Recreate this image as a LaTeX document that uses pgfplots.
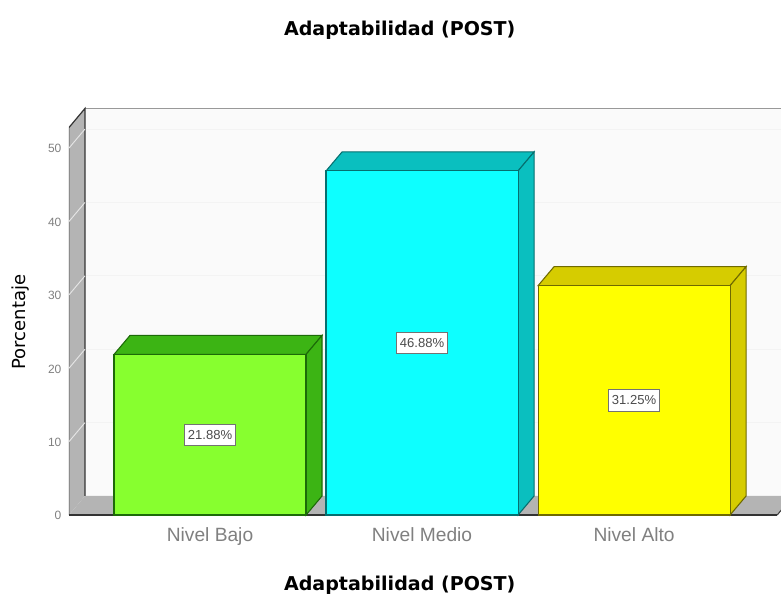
\documentclass[border=0pt]{standalone}
\usepackage{fontspec}
\setmainfont{Liberation Sans}
\newfontfamily\headfont{DejaVu Sans}
\usepackage{pgfplots}
\pgfplotsset{compat=1.18}
\definecolor{wallgray}{HTML}{B4B4B4}
\definecolor{backwall}{HTML}{FAFAFA}
\definecolor{backgrid}{HTML}{F3F3F3}
\definecolor{bargreen}{HTML}{87FF2F}
\definecolor{sidegreen}{HTML}{3CB414}
\definecolor{edgegreen}{HTML}{1C6A08}
\definecolor{barcyan}{HTML}{0DFFFF}
\definecolor{sidecyan}{HTML}{0ABFBF}
\definecolor{edgecyan}{HTML}{056F6F}
\definecolor{baryellow}{HTML}{FFFF00}
\definecolor{sideyellow}{HTML}{D6CC00}
\definecolor{edgeyellow}{HTML}{6F6A00}
\definecolor{softtext}{HTML}{808080}
\begin{document}
\begin{tikzpicture}[x=0.75pt,y=0.75pt]
\path[use as bounding box] (-69,-73.66) rectangle (712,522.34);
\begin{axis}[
  at={(0,0)}, anchor=south west,
  scale only axis, width=534pt, height=316.7pt,
  xmin=-0.665, xmax=2.693, ymin=-1, ymax=56.54,
  axis line style={draw=none},
  major tick length=0pt,
  xtick={0,1,2},
  xticklabels={Nivel Bajo,Nivel Medio,Nivel Alto},
  ytick={0,10,20,30,40,50},
  /pgf/number format/assume math mode=true,
  x tick label style={font=\fontsize{14.4}{16}\selectfont, text=softtext, inner sep=0pt, yshift=-4pt},
  y tick label style={font=\fontsize{9}{10}\selectfont, text=softtext, inner sep=0pt, xshift=-5.5pt, yshift=-0.6pt},
  title={\headfont\bfseries Adaptabilidad (POST)},
  title style={at={(axis description cs:0.4645,1.147)}, anchor=center, font=\fontsize{14.3}{16}\selectfont, inner sep=0pt},
  xlabel={\headfont\bfseries Adaptabilidad (POST)},
  xlabel style={at={(axis description cs:0.4645,-0.1484)}, anchor=center, font=\fontsize{14.3}{16}\selectfont, inner sep=0pt},
  ylabel={\headfont Porcentaje},
  ylabel style={at={(axis description cs:-0.0675,0.474)}, anchor=center, rotate=0, font=\fontsize{13.5}{15}\selectfont, inner sep=0pt},
  nodes near coords style={anchor=center},
]
% back wall and its grid
\addplot[fill=backwall, draw=none] coordinates {(-0.5896,2.59)(2.75,2.59)(2.75,55.4)(-0.5896,55.4)} \closedcycle;
\addplot[draw=black!40, line width=1pt] coordinates {(-0.5896,55.4)(2.75,55.4)};
\addplot[backgrid, line width=0.8pt] coordinates {(-0.5896,12.59)(2.75,12.59)};
\addplot[backgrid, line width=0.8pt] coordinates {(-0.5896,22.59)(2.75,22.59)};
\addplot[backgrid, line width=0.8pt] coordinates {(-0.5896,32.59)(2.75,32.59)};
\addplot[backgrid, line width=0.8pt] coordinates {(-0.5896,42.59)(2.75,42.59)};
\addplot[backgrid, line width=0.8pt] coordinates {(-0.5896,52.59)(2.75,52.59)};
% floor
\addplot[fill=wallgray, draw=none] coordinates {(-0.665,0)(2.675,0)(2.7505,2.59)(-0.5896,2.59)} --cycle;
\addplot[black!75, line width=0.8pt] coordinates {(2.675,0)(2.7505,2.59)};
% left wall with its grid
\addplot[fill=wallgray, draw=none] coordinates {(-0.665,0)(-0.5896,2.59)(-0.5896,55.4)(-0.665,52.8)} --cycle;
\addplot[black!45, line width=0.8pt] coordinates {(-0.665,0)(-0.665,52.8)};
\addplot[black!80, line width=0.9pt] coordinates {(-0.665,52.8)(-0.5896,55.4)(-0.5896,2.59)};
\addplot[white!90!black, line width=0.7pt] coordinates {(-0.665,10)(-0.5896,12.59)};
\addplot[white!90!black, line width=0.7pt] coordinates {(-0.665,20)(-0.5896,22.59)};
\addplot[white!90!black, line width=0.7pt] coordinates {(-0.665,30)(-0.5896,32.59)};
\addplot[white!90!black, line width=0.7pt] coordinates {(-0.665,40)(-0.5896,42.59)};
\addplot[white!90!black, line width=0.7pt] coordinates {(-0.665,50)(-0.5896,52.59)};
\addplot[black!80, line width=0.9pt] coordinates {(-0.665,0)(2.675,0)};
% Nivel Bajo
\addplot[fill=sidegreen, draw=edgegreen, line width=0.8pt] coordinates {(-0.4528,21.88)(0.4528,21.88)(0.5283,24.47)(-0.3773,24.47)} --cycle;
\addplot[fill=sidegreen, draw=edgegreen, line width=0.8pt] coordinates {(0.4528,0)(0.5283,2.59)(0.5283,24.47)(0.4528,21.88)} --cycle;
\addplot[ybar, bar shift=0pt, bar width=144pt, fill=bargreen, draw=edgegreen, line width=0.8pt] coordinates {(0,21.88)};
% Nivel Medio
\addplot[fill=sidecyan, draw=edgecyan, line width=0.8pt] coordinates {(0.5472,46.88)(1.4528,46.88)(1.5283,49.47)(0.6227,49.47)} --cycle;
\addplot[fill=sidecyan, draw=edgecyan, line width=0.8pt] coordinates {(1.4528,0)(1.5283,2.59)(1.5283,49.47)(1.4528,46.88)} --cycle;
\addplot[ybar, bar shift=0pt, bar width=144pt, fill=barcyan, draw=edgecyan, line width=0.8pt] coordinates {(1,46.88)};
% Nivel Alto
\addplot[fill=sideyellow, draw=edgeyellow, line width=0.8pt] coordinates {(1.5472,31.25)(2.4528,31.25)(2.5283,33.84)(1.6227,33.84)} --cycle;
\addplot[fill=sideyellow, draw=edgeyellow, line width=0.8pt] coordinates {(2.4528,0)(2.5283,2.59)(2.5283,33.84)(2.4528,31.25)} --cycle;
\addplot[ybar, bar shift=0pt, bar width=144pt, fill=baryellow, draw=edgeyellow, line width=0.8pt] coordinates {(2,31.25)};
% percentage labels at mid-height of each bar
\addplot[draw=none, mark=none, point meta=explicit symbolic,
  nodes near coords,
  every node near coord/.append style={anchor=center, draw=black!55, line width=0.4pt, fill=white, text=black!70,
    font=\fontsize{9.8}{11}\selectfont, inner sep=0pt, minimum width=38pt, minimum height=16pt}]
  coordinates {(0,10.94)[21.88\%] (1,23.44)[46.88\%] (2,15.625)[31.25\%]};
\end{axis}
\end{tikzpicture}
\end{document}
